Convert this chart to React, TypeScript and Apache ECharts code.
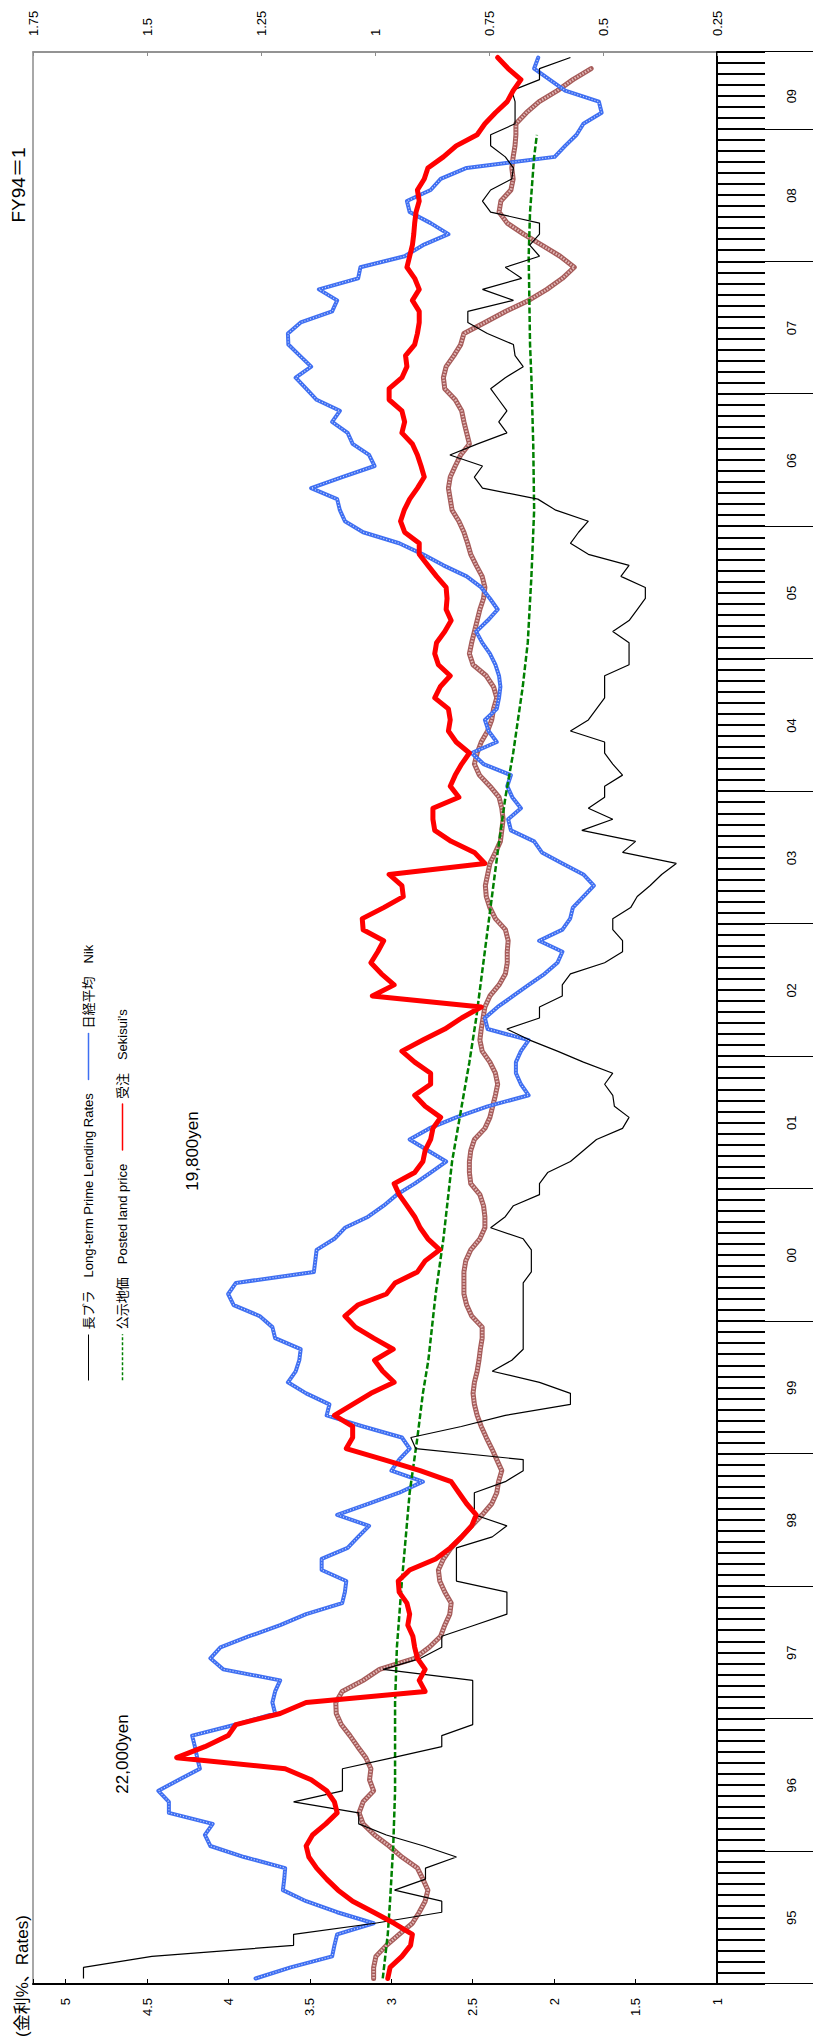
import React, { useEffect, useRef } from 'react';
import * as echarts from 'echarts';

const FONT = "'Liberation Sans', Arial, 'Noto Sans CJK JP', sans-serif";

// fiscal years shown on the category axis (monthly categories, FY starts in April)
const fiscalYears = ['95', '96', '97', '98', '99', '00', '01', '02', '03', '04', '05', '06', '07', '08', '09'];
const monthNames = ['Apr', 'May', 'Jun', 'Jul', 'Aug', 'Sep', 'Oct', 'Nov', 'Dec', 'Jan', 'Feb', 'Mar'];
const MONTH_COUNT = 175;
const categories = fiscalYears.flatMap((fy) => monthNames.map((m) => `FY${fy} ${m}`)).slice(0, MONTH_COUNT);

const S_PRIME = '長プラ　Long-term Prime Lending Rates';
const S_NIKKEI = '日経平均　Nik';
const S_LAND = '公示地価　Posted land price';
const S_ORDERS = '受注　Sekisui\'s';
const S_TREND = 'trend';

// 長プラ (left axis, %)
const primeRate = [
  4.89, 4.89, 4.47, 3.60, 3.60, 3.10, 2.69, 2.69, 2.98, 2.79,
  2.79, 2.60, 2.80, 3.03, 3.20, 3.20, 3.60, 3.30, 3.30, 3.30,
  2.99, 2.69, 2.69, 2.50, 2.50, 2.50, 2.50, 2.50, 3.05, 2.82,
  2.69, 2.69, 2.49, 2.29, 2.29, 2.29, 2.60, 2.60, 2.60, 2.60,
  2.38, 2.29, 2.49, 2.49, 2.49, 2.30, 2.19, 2.19, 2.85, 2.88,
  2.57, 2.30, 1.90, 1.90, 2.09, 2.38, 2.26, 2.19, 2.19, 2.19,
  2.19, 2.19, 2.19, 2.19, 2.14, 2.14, 2.14, 2.19, 2.39, 2.30,
  2.25, 2.09, 2.09, 2.04, 1.90, 1.82, 1.74, 1.58, 1.54, 1.63,
  1.64, 1.69, 1.64, 1.82, 1.98, 2.15, 2.29, 2.09, 2.09, 1.95,
  1.95, 1.90, 1.69, 1.58, 1.58, 1.64, 1.64, 1.53, 1.49, 1.41,
  1.34, 1.25, 1.58, 1.50, 1.83, 1.64, 1.79, 1.69, 1.69, 1.58,
  1.64, 1.69, 1.69, 1.90, 1.79, 1.74, 1.69, 1.69, 1.69, 1.54,
  1.54, 1.54, 1.64, 1.54, 1.49, 1.44, 1.44, 1.59, 1.54, 1.79,
  1.90, 1.85, 1.79, 1.99, 2.10, 2.44, 2.49, 2.44, 2.64, 2.47,
  2.29, 2.34, 2.29, 2.34, 2.39, 2.30, 2.19, 2.24, 2.25, 2.41,
  2.53, 2.53, 2.25, 2.44, 2.20, 2.30, 2.09, 2.15, 2.09, 2.09,
  2.39, 2.44, 2.39, 2.26, 2.25, 2.30, 2.39, 2.39, 2.24, 2.24,
  2.24, 2.26, 2.09, 2.09, 1.90,
];

// 日経平均 (right axis, FY94 = 1)
const nikkei = [
  1.262, 1.185, 1.094, 1.089, 1.083, 1.003, 1.083, 1.151, 1.202, 1.199,
  1.197, 1.287, 1.361, 1.373, 1.356, 1.452, 1.452, 1.475, 1.430, 1.384,
  1.390, 1.395, 1.401, 1.305, 1.219, 1.225, 1.219, 1.208, 1.333, 1.361,
  1.339, 1.276, 1.208, 1.151, 1.072, 1.066, 1.063, 1.117, 1.117, 1.060,
  1.037, 1.013, 1.083, 1.015, 0.947, 0.895, 0.964, 0.947, 0.924, 0.941,
  1.026, 1.106, 1.100, 1.151, 1.191, 1.174, 1.166, 1.163, 1.219, 1.225,
  1.253, 1.310, 1.322, 1.305, 1.134, 1.131, 1.128, 1.089, 1.066, 1.015,
  0.981, 0.952, 0.913, 0.878, 0.844, 0.884, 0.924, 0.881, 0.822, 0.753,
  0.663, 0.680, 0.691, 0.691, 0.680, 0.663, 0.753, 0.759, 0.731, 0.697,
  0.663, 0.628, 0.600, 0.589, 0.640, 0.589, 0.572, 0.566, 0.543, 0.520,
  0.543, 0.589, 0.634, 0.651, 0.702, 0.708, 0.680, 0.699, 0.710, 0.702,
  0.762, 0.788, 0.733, 0.751, 0.759, 0.733, 0.728, 0.725, 0.728, 0.736,
  0.748, 0.765, 0.778, 0.753, 0.731, 0.748, 0.767, 0.799, 0.850, 0.895,
  0.947, 1.026, 1.066, 1.077, 1.083, 1.140, 1.072, 1.001, 1.013, 1.049,
  1.060, 1.094, 1.077, 1.128, 1.151, 1.174, 1.140, 1.165, 1.190, 1.191,
  1.163, 1.094, 1.083, 1.123, 1.037, 1.032, 0.935, 0.895, 0.839, 0.878,
  0.924, 0.930, 0.878, 0.856, 0.799, 0.606, 0.583, 0.558, 0.543, 0.503,
  0.509, 0.583, 0.617, 0.651, 0.642,
];

// 受注 Sekisui's (right axis)
const sekisuiOrders = [
  0.972, 0.967, 0.941, 0.922, 0.918, 0.958, 1.003, 1.049, 1.081, 1.106,
  1.128, 1.145, 1.151, 1.137, 1.108, 1.083, 1.089, 1.106, 1.140, 1.197,
  1.435, 1.373, 1.322, 1.305, 1.208, 1.151, 0.890, 0.903, 0.890, 0.907,
  0.913, 0.917, 0.928, 0.924, 0.930, 0.947, 0.949, 0.924, 0.867, 0.835,
  0.810, 0.788, 0.778, 0.799, 0.816, 0.833, 0.901, 0.981, 1.063, 1.049,
  1.049, 1.089, 1.049, 1.009, 0.958, 0.983, 1.001, 0.960, 1.003, 1.043,
  1.066, 1.038, 0.975, 0.956, 0.907, 0.890, 0.858, 0.884, 0.901, 0.913,
  0.930, 0.947, 0.958, 0.913, 0.895, 0.890, 0.878, 0.873, 0.856, 0.890,
  0.913, 0.878, 0.878, 0.913, 0.941, 0.895, 0.847, 0.810, 0.767, 1.006,
  0.958, 0.986, 1.009, 0.994, 0.981, 1.026, 1.028, 0.981, 0.938, 0.941,
  0.969, 0.759, 0.782, 0.833, 0.869, 0.873, 0.873, 0.816, 0.835, 0.824,
  0.810, 0.793, 0.822, 0.839, 0.835, 0.839, 0.869, 0.857, 0.835, 0.861,
  0.869, 0.865, 0.847, 0.833, 0.844, 0.842, 0.844, 0.865, 0.884, 0.903,
  0.903, 0.935, 0.944, 0.936, 0.924, 0.907, 0.892, 0.899, 0.907, 0.918,
  0.941, 0.935, 0.941, 0.969, 0.969, 0.941, 0.930, 0.933, 0.913, 0.907,
  0.903, 0.903, 0.918, 0.903, 0.913, 0.930, 0.924, 0.918, 0.915, 0.913,
  0.910, 0.903, 0.907, 0.892, 0.884, 0.850, 0.822, 0.776, 0.759, 0.736,
  0.710, 0.697, 0.680, 0.708, 0.731,
];

// unlabeled thick brown trend line (right axis)
const ordersTrend = [
  1.003, 1.003, 0.998, 0.975, 0.947, 0.918, 0.903, 0.890, 0.884, 0.895,
  0.907, 0.941, 0.969, 1.001, 1.026, 1.035, 1.026, 1.003, 1.012, 1.009,
  1.020, 1.038, 1.055, 1.074, 1.085, 1.086, 1.072, 1.026, 0.990, 0.913,
  0.881, 0.856, 0.847, 0.836, 0.833, 0.847, 0.858, 0.861, 0.850, 0.833,
  0.810, 0.788, 0.765, 0.744, 0.733, 0.729, 0.722, 0.733, 0.744, 0.756,
  0.767, 0.776, 0.782, 0.785, 0.782, 0.776, 0.772, 0.769, 0.765, 0.765,
  0.788, 0.799, 0.805, 0.805, 0.805, 0.801, 0.790, 0.770, 0.759, 0.759,
  0.762, 0.770, 0.790, 0.793, 0.793, 0.790, 0.782, 0.759, 0.748, 0.742,
  0.736, 0.731, 0.736, 0.748, 0.765, 0.770, 0.767, 0.763, 0.759, 0.748,
  0.728, 0.714, 0.710, 0.710, 0.708, 0.714, 0.736, 0.748, 0.756, 0.758,
  0.753, 0.748, 0.736, 0.725, 0.722, 0.719, 0.722, 0.728, 0.748, 0.771,
  0.782, 0.776, 0.767, 0.753, 0.744, 0.740, 0.733, 0.740, 0.756, 0.785,
  0.793, 0.788, 0.782, 0.776, 0.770, 0.762, 0.759, 0.765, 0.778, 0.790,
  0.797, 0.805, 0.816, 0.831, 0.835, 0.839, 0.835, 0.824, 0.812, 0.793,
  0.799, 0.805, 0.810, 0.824, 0.847, 0.850, 0.844, 0.827, 0.812, 0.805,
  0.759, 0.714, 0.663, 0.623, 0.589, 0.563, 0.594, 0.634, 0.674, 0.710,
  0.728, 0.724, 0.702, 0.697, 0.700, 0.697, 0.693, 0.691, 0.691, 0.668,
  0.640, 0.600, 0.566, 0.526, null,
];

// 公示地価 (right axis): read at these months, joined by straight segments
const landMonths = [0, 4, 7, 12, 17, 25, 30, 36, 44, 49, 53, 56, 62, 67, 74, 79, 83, 87, 95, 102, 107, 111, 117, 121, 127, 133, 139, 145, 148, 156, 160, 165, 167];
const landValues = [0.983, 0.972, 0.967, 0.960, 0.956, 0.956, 0.952, 0.941, 0.924, 0.907, 0.895, 0.883, 0.867, 0.850, 0.831, 0.810, 0.793, 0.778, 0.753, 0.731, 0.714, 0.697, 0.676, 0.665, 0.657, 0.651, 0.653, 0.657, 0.660, 0.663, 0.660, 0.651, 0.645];

const landSeries: (number | null)[] = categories.map(() => null);
landMonths.forEach((m, k) => { landSeries[m] = landValues[k]; });

const lineBase = { type: 'line', symbol: 'none', showSymbol: false, connectNulls: false, silent: true };

const legendBase = {
  left: 663,
  orient: 'horizontal',
  padding: 0,
  itemWidth: 46,
  itemHeight: 14,
  itemGap: 13,
  selectedMode: false,
  itemStyle: { opacity: 0 },
  textStyle: { fontSize: 13, fontFamily: FONT, color: '#000', width: 250, overflow: 'truncate' },
};

const option: any = {
  animation: false,
  backgroundColor: '#ffffff',
  textStyle: { fontFamily: FONT, color: '#000' },
  grid: { left: 60, right: 52, top: 33, bottom: 96, show: true, borderColor: '#8c8c8c', borderWidth: 1.5, backgroundColor: 'transparent' },
  legend: [
    {
      ...legendBase, top: 82,
      data: [
        { name: S_PRIME, lineStyle: { width: 1 }, itemStyle: { opacity: 0 } },
        { name: S_NIKKEI, lineStyle: { width: 1.5 }, itemStyle: { opacity: 0 } },
      ],
    },
    {
      ...legendBase, top: 116,
      data: [
        { name: S_LAND, lineStyle: { width: 1.5, type: [3, 2] }, itemStyle: { opacity: 0 } },
        { name: S_ORDERS, lineStyle: { width: 1.5 }, itemStyle: { opacity: 0 } },
      ],
    },
  ],
  xAxis: [
    {
      type: 'category', data: categories, boundaryGap: true, position: 'bottom',
      axisLine: { show: true, onZero: false, lineStyle: { color: '#000', width: 2 } },
      axisTick: { show: true, interval: 0, length: 48, lineStyle: { color: '#000', width: 2 } },
      axisLabel: { show: false },
      splitLine: { show: false },
    },
    {
      type: 'category', data: categories, boundaryGap: true, position: 'bottom',
      axisLine: { show: false, onZero: false },
      axisTick: { show: true, interval: (i: number) => i % 12 === 0, length: 96, lineStyle: { color: '#000', width: 1 } },
      axisLabel: {
        show: true,
        interval: (i: number) => (i % 12 === 6 && i < 168) || i === 171,
        formatter: (_v: string, i: number) => fiscalYears[Math.floor(i / 12)],
        margin: 68, fontSize: 13, color: '#000', fontFamily: FONT,
        padding: [0, 11, 0, 0],
      },
      splitLine: { show: false },
    },
  ],
  yAxis: [
    {
      type: 'value', position: 'left', min: 1, max: 5.2, interval: 0.5,
      axisLine: { show: true, lineStyle: { color: '#000', width: 2 } },
      axisTick: { show: true, inside: true, length: 5, lineStyle: { color: '#000', width: 1 } },
      axisLabel: {
        fontSize: 13, margin: 14, color: '#000', fontFamily: FONT,
        formatter: (v: number) => (Math.abs(v * 2 - Math.round(v * 2)) < 1e-6 ? String(v) : ''),
      },
      splitLine: { show: false },
    },
    {
      type: 'value', position: 'right', min: 0.25, max: 1.75, interval: 0.25,
      axisLine: { show: true, lineStyle: { color: '#8c8c8c', width: 1.5 } },
      axisTick: { show: true, inside: true, length: 4, lineStyle: { color: '#8c8c8c', width: 1 } },
      axisLabel: { fontSize: 13, margin: 16, color: '#000', fontFamily: FONT },
      splitLine: { show: false },
    },
  ],
  series: [
    { ...lineBase, name: S_TREND, yAxisIndex: 1, data: ordersTrend, z: 1,
      lineStyle: { color: '#a65c5a', width: 5, cap: 'round', join: 'round' }, itemStyle: { color: '#a65c5a' } },
    { ...lineBase, name: S_TREND + ' texture', yAxisIndex: 1, data: ordersTrend, z: 1,
      lineStyle: { color: 'rgba(245,215,215,0.75)', width: 2.5, type: [1.5, 1.5] }, itemStyle: { color: '#a65c5a' } },
    { ...lineBase, name: S_NIKKEI, yAxisIndex: 1, data: nikkei, z: 2,
      lineStyle: { color: '#3f6ff2', width: 4, cap: 'round', join: 'round' }, itemStyle: { color: '#3f6ff2' } },
    { ...lineBase, name: S_NIKKEI + ' texture', yAxisIndex: 1, data: nikkei, z: 2,
      lineStyle: { color: 'rgba(255,255,255,0.75)', width: 1.2, type: [1, 2] }, itemStyle: { color: '#3f6ff2' } },
    { ...lineBase, name: S_LAND, yAxisIndex: 1, data: landSeries, connectNulls: true, z: 3,
      lineStyle: { color: '#008000', width: 2.5, type: [6, 2.5] }, itemStyle: { color: '#008000' } },
    { ...lineBase, name: S_PRIME, yAxisIndex: 0, data: primeRate, z: 4,
      lineStyle: { color: '#000000', width: 1.2 }, itemStyle: { color: '#000000' } },
    { ...lineBase, name: S_ORDERS, yAxisIndex: 1, data: sekisuiOrders, z: 5,
      lineStyle: { color: '#ff0000', width: 5, cap: 'round', join: 'round' }, itemStyle: { color: '#ff0000' } },
  ],
  graphic: [
    { type: 'text', x: 7, y: 22, style: { text: '(金利%、Rates)', fontSize: 17, fontFamily: FONT, fill: '#000', align: 'left', verticalAlign: 'middle', textAlign: 'left', textVerticalAlign: 'middle' } },
    { type: 'text', x: 1859, y: 18, style: { text: 'FY94＝1', fontSize: 19, fontFamily: FONT, fill: '#000', align: 'center', verticalAlign: 'middle', textAlign: 'center', textVerticalAlign: 'middle' } },
    { type: 'text', x: 290, y: 122, style: { text: '22,000yen', fontSize: 17, fontFamily: FONT, fill: '#000', align: 'center', verticalAlign: 'middle', textAlign: 'center', textVerticalAlign: 'middle' } },
    { type: 'text', x: 893, y: 192, style: { text: '19,800yen', fontSize: 17, fontFamily: FONT, fill: '#000', align: 'center', verticalAlign: 'middle', textAlign: 'center', textVerticalAlign: 'middle' } },
  ],
};

export default function App() {
  const ref = useRef<HTMLDivElement>(null);
  useEffect(() => {
    if (!ref.current) return;
    const chart = echarts.init(ref.current, null, { renderer: 'svg' });
    chart.setOption(option);
    return () => chart.dispose();
  }, []);
  return (
    <div style={{ position: 'absolute', left: 0, top: 0, width: 813, height: 2044, overflow: 'hidden', background: '#fff' }}>
      <div
        ref={ref}
        style={{
          position: 'absolute', left: 0, top: 0, width: 2044, height: 813,
          transformOrigin: '0 0', transform: 'translateY(2044px) rotate(-90deg)',
        }}
      />
    </div>
  );
}
